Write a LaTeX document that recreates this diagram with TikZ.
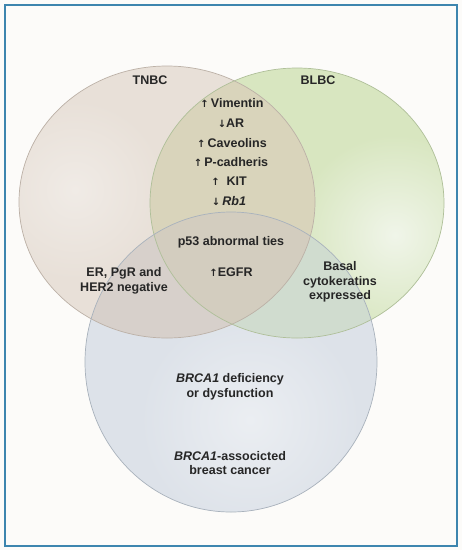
\documentclass[tikz,border=0pt]{standalone}
\usepackage{fontspec}
\setmainfont{Liberation Sans}
\newfontfamily\arrowfont{DejaVu Sans}
\definecolor{bgc}{HTML}{FCFBF9}
\definecolor{framec}{HTML}{3D85AE}
\definecolor{tnbcc}{HTML}{E8E0D8}
\definecolor{tnbchi}{HTML}{F0EBE6}
\definecolor{blbcc}{HTML}{D8E6C0}
\definecolor{blbchi}{HTML}{F0F5E9}
\definecolor{brcac}{HTML}{DDE2E9}
\definecolor{brcahi}{HTML}{EBEEF2}
\definecolor{tbc}{HTML}{D9D4BB}
\definecolor{trc}{HTML}{D7D0CB}
\definecolor{brc}{HTML}{D0DCCF}
\definecolor{allc}{HTML}{D3CDBF}
\definecolor{tnbcl}{HTML}{BCB1A7}
\definecolor{blbcl}{HTML}{AFBF99}
\definecolor{brcal}{HTML}{A9B2BC}
\definecolor{txtc}{HTML}{262626}
\newcommand\uparr{{\arrowfont\fontsize{10}{11}\selectfont ↑}}
\newcommand\dnarr{{\arrowfont\fontsize{10}{11}\selectfont ↓}}
\def\tnbcpath{(167,202) ellipse [x radius=148pt, y radius=136pt]}
\def\blbcpath{(297,203) ellipse [x radius=147pt, y radius=135pt]}
\def\brcapath{(231,362) ellipse [x radius=146pt, y radius=150pt]}
\tikzset{
  txt/.style={text=txtc, font=\bfseries\fontsize{12.5}{14.5}\selectfont, align=center, inner sep=0pt},
  ring/.style={line width=0.7pt},
}
\begin{document}
\begin{tikzpicture}[x=1pt,y=-1pt]
\useasboundingbox (0,0) rectangle (462,550);
\fill[bgc] (0,0) rectangle (462,550);
\draw[framec, line width=1.8pt] (5,5) rectangle (457,546);
% base fills
\fill[tnbcc] \tnbcpath;
\begin{scope}
  \clip \tnbcpath;
  \shade[inner color=tnbchi, outer color=tnbcc] (75,190) circle (90pt);
\end{scope}
\fill[blbcc] \blbcpath;
\begin{scope}
  \clip \blbcpath;
  \shade[inner color=blbchi, outer color=blbcc] (395,235) circle (100pt);
\end{scope}
\fill[brcac] \brcapath;
\begin{scope}
  \clip \brcapath;
  \shade[inner color=brcahi, outer color=brcac] (250,420) circle (110pt);
\end{scope}
% overlaps
\begin{scope}
  \clip \tnbcpath;
  \fill[tbc] \blbcpath;
  \fill[trc] \brcapath;
\end{scope}
\begin{scope}
  \clip \blbcpath;
  \fill[brc] \brcapath;
\end{scope}
\begin{scope}
  \clip \tnbcpath;
  \clip \blbcpath;
  \fill[allc] \brcapath;
\end{scope}
% outlines
\draw[ring, tnbcl] \tnbcpath;
\draw[ring, blbcl] \blbcpath;
\draw[ring, brcal] \brcapath;
% labels
\node[txt] (tnbc) at (150,80) {TNBC};
\node[txt] (blbc) at (318,80) {BLBC};
\node[txt] (vim) at (232,103) {\uparr\,Vimentin};
\node[txt] (ar) at (231,123) {\dnarr AR};
\node[txt] (cav) at (232,143) {\uparr\,Caveolins};
\node[txt] (pcad) at (231,162) {\uparr\,P-cadheris};
\node[txt] (kit) at (229,181) {\uparr\ \ KIT};
\node[txt] (rb) at (229,201) {\dnarr\,\textit{Rb1}};
\node[txt] (p53) at (231,242) {p53 abnormal ties};
\node[txt] (egfr) at (231,272) {\uparr EGFR};
\node[txt] (er) at (124,281) {ER, PgR and\\HER2 negative};
\node[txt] (basal) at (340,282) {Basal\\cytokeratins\\expressed};
\node[txt] (def) at (230,387) {\textit{BRCA1} deficiency\\or dysfunction};
\node[txt] (assoc) at (230,463) {\textit{BRCA1}-associcted\\breast cancer};
\end{tikzpicture}
\end{document}
